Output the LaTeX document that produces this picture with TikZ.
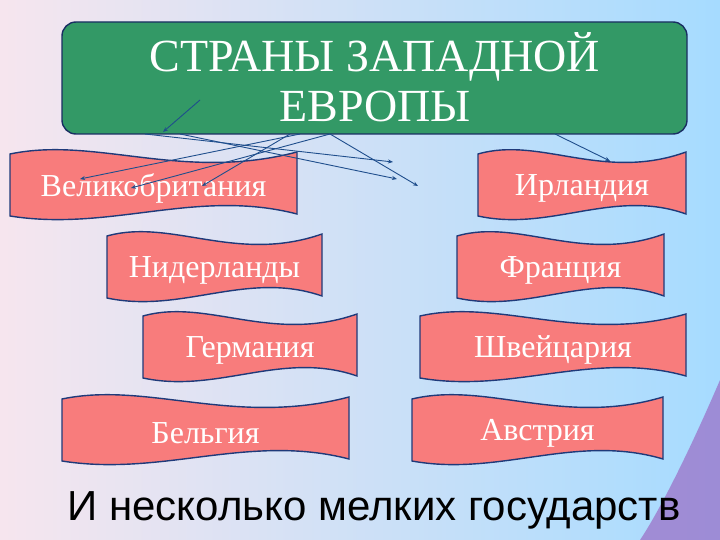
\documentclass[tikz,border=0pt]{standalone}
\usepackage{fontspec}
\setmainfont{Liberation Serif}
\newfontfamily\sansf{Liberation Sans}
\usetikzlibrary{arrows.meta}
\definecolor{ttl}{HTML}{339966}
\definecolor{ban}{HTML}{F87C7C}
\definecolor{edge}{HTML}{1F3A7A}
\definecolor{arr}{HTML}{1F4E8C}
\tikzset{bantext/.style={text=white,font=\fontsize{32}{36}\selectfont},
 conn/.style={arr,line width=0.9pt,-{Stealth[length=5pt,width=4pt]}}}
\newcommand\banner[6]{%
 \pgfmathsetmacro\w{#3-#1}%
 \draw[fill=ban,draw=edge,line width=1.4pt]
  (#1,#2+4) .. controls (#1+0.3*\w,#2-14) and (#1+0.6*\w,#2+32) .. (#3,#2+2)
  -- (#3,#4-4) .. controls (#3-0.35*\w,#4-30) and (#3-0.65*\w,#4+14) .. (#1,#4-2) -- cycle;
 \node[bantext] (#6) at ({(#1+#3)/2},{(#2+#4)/2+4}) {#5};}
\begin{document}
\begin{tikzpicture}[x=1pt,y=-1pt]
\shade[left color=blue!12!purple!10!white, right color=blue!40!cyan!35!white] (0,0) rectangle (720,540);
\fill[purple!55!blue!70, opacity=0.55] (720,380) .. controls (690,450) and (660,510) .. (640,540) -- (720,540) -- cycle;
\useasboundingbox (0,0) rectangle (720,540);
\draw[fill=ttl,draw=edge!80!black,line width=1.4pt,rounded corners=14pt] (62,22) rectangle (687,134);
\node[text=white,font=\fontsize{46}{50}\selectfont,align=center] (title) at (375,77) {СТРАНЫ ЗАПАДНОЙ\\ЕВРОПЫ};
\banner{10}{150}{297}{218}{Великобритания}{gb}
\banner{478}{150}{686}{218}{Ирландия}{ie}
\banner{107}{232}{322}{300}{Нидерланды}{nl}
\banner{457}{232}{664}{300}{Франция}{fr}
\banner{143}{312}{357}{380}{Германия}{de}
\banner{420}{312}{686}{380}{Швейцария}{ch}
\banner{62}{395}{349}{463}{Бельгия}{be}
\banner{412}{395}{663}{463}{Австрия}{at}
\node[font=\sansf\fontsize{42}{46}\selectfont] (small) at (374,510) {И несколько мелких государств};
\coordinate (s1) at (200,100); \coordinate (e1) at (163,132);
\coordinate (s2) at (300,134); \coordinate (e2) at (80,179);
\coordinate (s3) at (330,134); \coordinate (e3) at (131,188);
\coordinate (s4) at (290,134); \coordinate (e4) at (202,186);
\coordinate (s5) at (145,134); \coordinate (e5) at (393,162);
\coordinate (s6) at (180,134); \coordinate (e6) at (397,179);
\coordinate (s7) at (330,134); \coordinate (e7) at (418,186);
\coordinate (s8) at (555,134); \coordinate (e8) at (610,161);
\foreach \i in {1,...,8} \draw[conn] (s\i) -- (e\i);
\end{tikzpicture}
\end{document}
